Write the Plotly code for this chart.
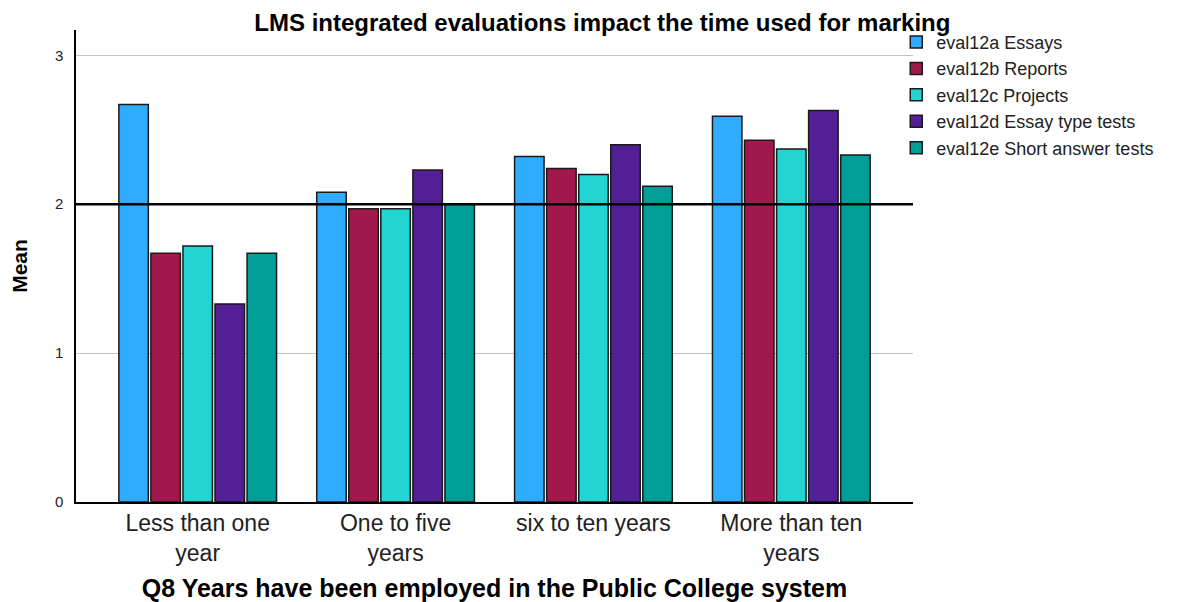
import plotly.graph_objects as go

categories = ["Less than one<br>year", "One to five<br>years", "six to ten years", "More than ten<br>years"]
series_names = ["eval12a Essays", "eval12b Reports", "eval12c Projects",
                "eval12d Essay type tests", "eval12e Short answer tests"]
essays = [2.67, 2.08, 2.32, 2.59]
reports = [1.67, 1.97, 2.24, 2.43]
projects = [1.72, 1.97, 2.20, 2.37]
essay_tests = [1.33, 2.23, 2.40, 2.63]
short_tests = [1.67, 2.00, 2.12, 2.33]
colors = ["#30ACFF", "#A1194C", "#22D5D2", "#531F97", "#009E97"]
y_ticks = [0, 1, 2, 3]
reference_value = 2

FONT = "Liberation Sans, Arial, sans-serif"

fig = go.Figure()
for name, vals, col in zip(series_names, [essays, reports, projects, essay_tests, short_tests], colors):
    fig.add_trace(go.Bar(
        x=categories, y=vals, name=name,
        marker=dict(color=col, line=dict(color="#1a1a1a", width=1.5)),
    ))

fig.add_hline(y=reference_value, line=dict(color="black", width=2.5), layer="above")

# page body has an 8px margin, so the figure is 8px smaller and margins shifted
fig.update_layout(
    width=1184, height=594,
    margin=dict(l=68, r=279, t=22, b=100),
    paper_bgcolor="white", plot_bgcolor="white",
    barmode="group", bargap=0.19, bargroupgap=0.08,
    title=dict(text="<b>LMS integrated evaluations impact the time used for marking</b>",
               x=0.502, xanchor="center", y=1 - 15 / 594, yanchor="middle", yref="container",
               font=dict(family=FONT, size=24, color="black")),
    legend=dict(x=0.98, y=1.013, xanchor="left", yanchor="top",
                font=dict(family=FONT, size=18, color="#222"),
                bgcolor="rgba(0,0,0,0)", tracegroupgap=0),
    font=dict(family=FONT, color="black"),
)

fig.update_xaxes(
    range=[-0.615, 3.615], showline=True, linecolor="black", linewidth=1.5,
    ticks="", showgrid=False, automargin=False,
    tickfont=dict(family=FONT, size=23, color="#222"),
    title=dict(text="<b>Q8 Years have been employed in the Public College system</b>",
               font=dict(family=FONT, size=25, color="black"), standoff=22),
)
fig.update_yaxes(
    range=[0, 3.17], tickvals=y_ticks, showline=True, linecolor="black", linewidth=1.5,
    showgrid=True, gridcolor="#C4C4C4", gridwidth=1, zeroline=False, ticks="",
    ticklabelstandoff=8, automargin=False,
    tickfont=dict(family=FONT, size=15, color="#222"),
    title=dict(text="<b>Mean</b>", font=dict(family=FONT, size=21, color="black"), standoff=24),
)

fig.write_html("out.html")
